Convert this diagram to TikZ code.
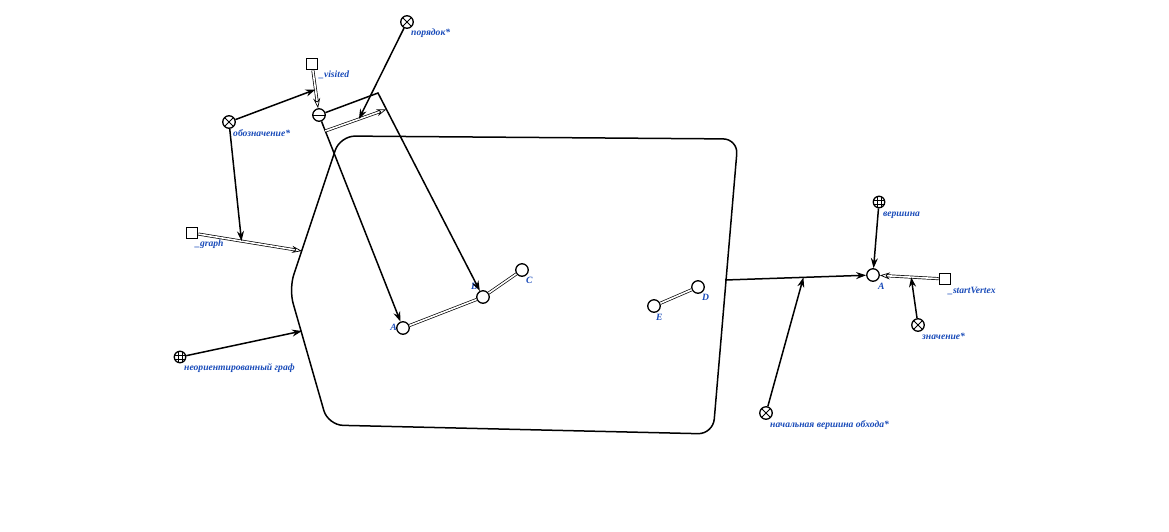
\documentclass[tikz,border=0pt]{standalone}
\usepackage{fontspec}
\setmainfont{Liberation Serif}
\usetikzlibrary{arrows.meta,calc}
\definecolor{lblue}{RGB}{25,75,185}
\tikzset{
  base/.style={draw, line width=1.3pt, inner sep=0pt, fill=white},
  otimes/.style={base, circle, minimum size=12.5pt,
    path picture={\draw[line width=1pt] (path picture bounding box.north west) -- (path picture bounding box.south east)
      (path picture bounding box.south west) -- (path picture bounding box.north east);}},
  ominus/.style={base, circle, minimum size=12.5pt,
    path picture={\draw[line width=1pt] (path picture bounding box.west) -- (path picture bounding box.east);}},
  ogrid/.style={base, circle, minimum size=11.5pt,
    path picture={\draw[line width=0.7pt]
      ([xshift=-1.9pt]path picture bounding box.north) -- ([xshift=-1.9pt]path picture bounding box.south)
      ([xshift=1.9pt]path picture bounding box.north) -- ([xshift=1.9pt]path picture bounding box.south)
      ([yshift=-1.9pt]path picture bounding box.west) -- ([yshift=-1.9pt]path picture bounding box.east)
      ([yshift=1.9pt]path picture bounding box.west) -- ([yshift=1.9pt]path picture bounding box.east);}},
  sq/.style={base, rectangle, minimum size=11.5pt},
  vtx/.style={base, circle, minimum size=12.5pt},
  lbl/.style={text=lblue, font=\fontsize{9.6}{10}\selectfont\bfseries\itshape, inner sep=0pt},
  arr/.style={line width=1.5pt, -{Stealth[length=10pt,width=7pt]}},
  dbl/.style={double=white, double distance=1.6pt, line width=0.7pt},
  darr/.style={dbl, -{Stealth[length=10pt,width=7pt,open]}},
  shp/.style={line width=1.5pt, rounded corners=15pt},
}
\begin{document}
\begin{tikzpicture}[x=1pt,y=-1pt]
\useasboundingbox (0,0) rectangle (1169,531);
% big shape
\draw[shp] (540,137.5) -- (738,139) -- (713,434) -- (328,425) -- (289,289) -- (340,136) -- cycle;
\coordinate (gL) at (302,251);
\coordinate (gL2) at (302,331);
\coordinate (gR) at (725,280);
\coordinate (cB) at (378,93);
% nodes
\node[otimes] (por) at (407,22) {};
\node[sq] (vis) at (312,64) {};
\node[otimes] (obo) at (229,122) {};
\node[ominus] (mns) at (319,115) {};
\node[sq] (grp) at (192,233) {};
\node[ogrid] (neo) at (180,357) {};
\node[vtx] (A) at (403,328) {};
\node[vtx] (B) at (483,297) {};
\node[vtx] (C) at (522,270) {};
\node[vtx] (E) at (654,306) {};
\node[vtx] (D) at (698,287) {};
\node[ogrid] (ver) at (879,202) {};
\node[vtx] (A2) at (873,275) {};
\node[sq] (stv) at (945,279) {};
\node[otimes] (zna) at (918,325) {};
\node[otimes] (nac) at (766,413) {};
% labels
\node[lbl, anchor=base west] (lpor) at (411,35) {порядок*};
\node[lbl, anchor=base west] (lvis) at (319,77) {\_visited};
\node[lbl, anchor=base west] (lobo) at (233,136) {обозначение*};
\node[lbl, anchor=base west] (lgrp) at (195,246) {\_graph};
\node[lbl, anchor=base west] (lneo) at (184,370) {неориентированный граф};
\node[lbl, anchor=base east] (lA) at (397,330) {A};
\node[lbl, anchor=base west] (lB) at (471,289) {B};
\node[lbl, anchor=base west] (lC) at (526,283) {C};
\node[lbl, anchor=base west] (lE) at (656,320) {E};
\node[lbl, anchor=base west] (lD) at (702,300) {D};
\node[lbl, anchor=base west] (lver) at (883,216) {вершина};
\node[lbl, anchor=base west] (lA2) at (878,289) {A};
\node[lbl, anchor=base west] (lstv) at (948,293) {\_startVertex};
\node[lbl, anchor=base west] (lzna) at (922,339) {значение*};
\node[lbl, anchor=base west] (lnac) at (770,427) {начальная вершина обхода*};
% graph edges inside
\draw[dbl] (A) -- (B);
\draw[dbl] (B) -- (C);
\draw[dbl] (E) -- (D);
% left connectors
\draw[darr] (vis) -- (mns);
\draw[arr] (mns) -- (A);
\draw[arr] (mns) -- (cB) -- (B);
\coordinate (p1) at ($(mns)!0.075!(A)$);
\coordinate (p2) at ($(cB)!0.08!(B)$);
\draw[darr] (p1) -- (p2);
\coordinate (pm) at ($(p1)!0.55!(p2)$);
\draw[arr] (por) -- (pm);
\coordinate (vm) at ($(vis)!0.5!(mns)$);
\draw[arr] (obo) -- (vm);
\draw[darr] (grp) -- (gL);
\coordinate (gm) at ($(grp)!0.45!(gL)$);
\draw[arr] (obo) -- (gm);
\draw[arr] (neo) -- (gL2);
% right connectors
\draw[arr] (gR) -- (A2);
\coordinate (rm) at ($(gR)!0.53!(A2)$);
\draw[arr] (nac) -- (rm);
\draw[arr] (ver) -- (A2);
\draw[darr] (stv) -- (A2);
\coordinate (sm) at ($(stv)!0.47!(A2)$);
\draw[arr] (zna) -- (sm);
\end{tikzpicture}
\end{document}
